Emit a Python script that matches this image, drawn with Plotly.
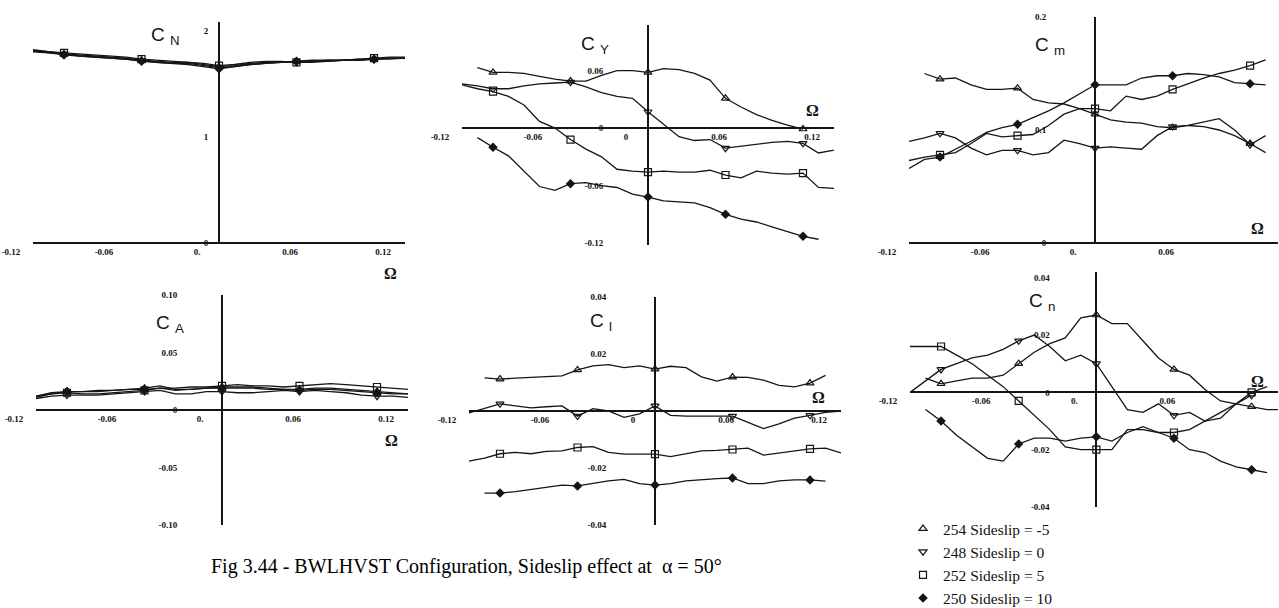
import plotly.graph_objects as go

W, H = 1279, 608

# ---------------- data ----------------
OMEGA = [-0.12, -0.11, -0.10, -0.09, -0.08, -0.07, -0.06, -0.05, -0.04, -0.03, -0.02, -0.01,
         0.00, 0.01, 0.02, 0.03, 0.04, 0.05, 0.06, 0.07, 0.08, 0.09, 0.10, 0.11, 0.12]
MARKER_OMEGA = [-0.10, -0.05, 0.00, 0.05, 0.10]

SERIES_NAMES = ["254 Sideslip = -5", "248 Sideslip = 0", "252 Sideslip = 5", "250 Sideslip = 10"]

# C_N
CN_M5 = [1.81, 1.80, 1.78, 1.77, 1.76, 1.75, 1.74, 1.72, 1.71, 1.70, 1.70, 1.68, 1.66, 1.67, 1.69, 1.70, 1.70, 1.71, 1.71, 1.72, 1.72, 1.73, 1.73, 1.74, 1.74]
CN_0 = [1.80, 1.79, 1.78, 1.76, 1.75, 1.74, 1.73, 1.72, 1.70, 1.69, 1.69, 1.67, 1.65, 1.66, 1.68, 1.69, 1.70, 1.70, 1.71, 1.71, 1.72, 1.72, 1.73, 1.73, 1.74]
CN_P5 = [1.82, 1.80, 1.79, 1.78, 1.77, 1.76, 1.75, 1.73, 1.72, 1.71, 1.70, 1.69, 1.67, 1.68, 1.70, 1.71, 1.71, 1.70, 1.70, 1.71, 1.72, 1.73, 1.74, 1.75, 1.75]
CN_P10 = [1.81, 1.79, 1.77, 1.76, 1.75, 1.74, 1.73, 1.71, 1.70, 1.69, 1.68, 1.66, 1.64, 1.66, 1.68, 1.69, 1.70, 1.71, 1.72, 1.72, 1.72, 1.72, 1.73, 1.74, 1.74]

# C_Y
CY_M5 = [None, 0.063, 0.058, 0.058, 0.057, 0.054, 0.051, 0.049, 0.049, 0.055, 0.060, 0.060, 0.058, 0.062, 0.061, 0.057, 0.050, 0.031, 0.022, 0.014, 0.008, 0.003, -0.001, None, None]
CY_0 = [0.046, 0.044, 0.041, 0.041, 0.044, 0.046, 0.047, 0.048, 0.043, 0.037, 0.033, 0.031, 0.017, 0.004, -0.009, -0.013, -0.012, -0.021, -0.019, -0.017, -0.015, -0.014, -0.016, -0.026, -0.023]
CY_P5 = [0.045, 0.041, 0.038, 0.033, 0.024, 0.007, 0.000, -0.012, -0.022, -0.030, -0.043, -0.045, -0.046, -0.045, -0.046, -0.046, -0.044, -0.049, -0.052, -0.045, -0.047, -0.048, -0.047, -0.062, -0.063]
CY_P10 = [None, -0.010, -0.020, -0.029, -0.045, -0.061, -0.065, -0.058, -0.057, -0.060, -0.062, -0.069, -0.072, -0.076, -0.077, -0.078, -0.083, -0.090, -0.095, -0.098, -0.103, -0.108, -0.113, -0.116, None]

# C_m
CM_M5 = [None, 0.150, 0.145, 0.146, 0.140, 0.136, 0.136, 0.137, 0.127, 0.124, 0.123, 0.119, 0.114, 0.109, 0.107, 0.106, 0.103, 0.102, 0.104, 0.103, 0.100, 0.095, 0.088, 0.080, None]
CM_0 = [0.090, 0.093, 0.097, 0.093, 0.084, 0.078, 0.082, 0.082, 0.078, 0.080, 0.091, 0.088, 0.084, 0.085, 0.084, 0.083, 0.095, 0.103, 0.104, 0.107, 0.110, 0.100, 0.087, 0.095, None]
CM_P5 = [0.073, 0.076, 0.078, 0.080, 0.088, 0.097, 0.094, 0.095, 0.096, 0.104, 0.114, 0.119, 0.119, 0.117, 0.130, 0.127, 0.130, 0.136, 0.141, 0.146, 0.150, 0.153, 0.157, 0.162, None]
CM_P10 = [0.066, 0.074, 0.076, 0.083, 0.090, 0.098, 0.102, 0.105, 0.111, 0.117, 0.124, 0.132, 0.140, 0.140, 0.140, 0.146, 0.148, 0.148, 0.150, 0.149, 0.147, 0.142, 0.141, 0.140, None]

# C_A
CA_M5 = [0.011, 0.014, 0.016, 0.016, 0.017, 0.017, 0.018, 0.019, 0.021, 0.018, 0.018, 0.019, 0.020, 0.020, 0.020, 0.019, 0.018, 0.018, 0.019, 0.019, 0.018, 0.017, 0.016, 0.015, 0.014]
CA_0 = [0.010, 0.012, 0.013, 0.013, 0.013, 0.014, 0.015, 0.016, 0.017, 0.014, 0.014, 0.016, 0.016, 0.015, 0.015, 0.016, 0.017, 0.016, 0.017, 0.016, 0.015, 0.013, 0.012, 0.012, 0.011]
CA_P5 = [0.012, 0.014, 0.015, 0.014, 0.014, 0.015, 0.016, 0.017, 0.019, 0.019, 0.020, 0.020, 0.021, 0.022, 0.021, 0.021, 0.020, 0.021, 0.022, 0.023, 0.022, 0.021, 0.020, 0.019, 0.018]
CA_P10 = [0.012, 0.015, 0.016, 0.016, 0.016, 0.017, 0.018, 0.018, 0.019, 0.017, 0.018, 0.019, 0.019, 0.019, 0.019, 0.018, 0.018, 0.017, 0.018, 0.018, 0.017, 0.016, 0.015, 0.014, 0.014]

# C_l
CL_M5 = [None, 0.0116, 0.0112, 0.0115, 0.0118, 0.0120, 0.0123, 0.0144, 0.0158, 0.0163, 0.0152, 0.0158, 0.0147, 0.0157, 0.0152, 0.0120, 0.0105, 0.0119, 0.0118, 0.0108, 0.0090, 0.0085, 0.0098, 0.0125, None]
CL_0 = [-0.0007, 0.0008, 0.0025, 0.0018, 0.0011, 0.0015, 0.0018, -0.0018, 0.0008, 0.0000, -0.0022, -0.0010, 0.0018, -0.0015, -0.0018, -0.0018, -0.0018, -0.0018, -0.0040, -0.0062, -0.0045, -0.0025, -0.0015, -0.0005, 0.0000]
CL_P5 = [-0.0176, -0.0165, -0.0150, -0.0145, -0.0150, -0.0142, -0.0140, -0.0128, -0.0125, -0.0145, -0.0151, -0.0151, -0.0151, -0.0160, -0.0150, -0.0140, -0.0138, -0.0135, -0.0130, -0.0155, -0.0148, -0.0140, -0.0133, -0.0130, -0.0147]
CL_P10 = [None, -0.0288, -0.0288, -0.0283, -0.0275, -0.0268, -0.0260, -0.0263, -0.0255, -0.0245, -0.0240, -0.0255, -0.0260, -0.0255, -0.0245, -0.0240, -0.0237, -0.0235, -0.0255, -0.0255, -0.0245, -0.0242, -0.0242, -0.0246, None]

# C_n
CNY_M5 = [None, 0.005, 0.003, 0.004, 0.005, 0.005, 0.006, 0.010, 0.014, 0.017, 0.019, 0.026, 0.027, 0.024, 0.024, 0.018, 0.012, 0.008, 0.006, 0.001, -0.003, -0.004, -0.005, -0.006, -0.006]
CNY_0 = [0.000, 0.004, 0.008, 0.010, 0.012, 0.013, 0.015, 0.018, 0.020, 0.016, 0.011, 0.013, 0.010, 0.002, -0.006, -0.007, -0.004, -0.008, -0.007, -0.010, -0.009, -0.004, -0.001, None, None]
CNY_P5 = [0.016, 0.016, 0.016, 0.013, 0.010, 0.006, 0.002, -0.003, -0.008, -0.013, -0.019, -0.020, -0.020, -0.020, -0.013, -0.013, -0.014, -0.014, -0.013, -0.010, -0.007, -0.004, 0.000, 0.002, None]
CNY_P10 = [None, -0.006, -0.010, -0.015, -0.019, -0.023, -0.024, -0.018, -0.016, -0.016, -0.017, -0.016, -0.0155, -0.017, -0.014, -0.012, -0.014, -0.016, -0.020, -0.021, -0.024, -0.026, -0.027, -0.028, None]

# axis tick labels
X_TICKS = [-0.12, -0.06, 0.0, 0.06, 0.12]
CN_YTICKS, CN_YTEXT = [0, 1, 2], ["0", "1", "2"]
CY_YTICKS, CY_YTEXT = [0.06, 0, -0.06, -0.12], ["0.06", "0", "-0.06", "-0.12"]
CM_YTICKS, CM_YTEXT = [0, 0.1, 0.2], ["0", "0.1", "0.2"]
CA_YTICKS, CA_YTEXT = [0.10, 0.05, 0, -0.05, -0.10], ["0.10", "0.05", "0", "-0.05", "-0.10"]
CL_YTICKS, CL_YTEXT = [0.04, 0.02, -0.02, -0.04], ["0.04", "0.02", "-0.02", "-0.04"]
CNY_YTICKS, CNY_YTEXT = [0.04, 0.02, 0, -0.02, -0.04], ["0.04", "0.02", "0", "-0.02", "-0.04"]

# ---------------- layout helpers ----------------
def fx(p):
    return p / W

def fy(p):
    return 1 - p / H

INK = "#151515"
SYMBOLS = ["triangle-up-open", "triangle-down-open", "square-open", "diamond"]
TICKFONT = dict(family="Liberation Serif", size=9, color="#111", weight="bold")

PANELS = [
    dict(title="C <sub>N</sub>", series=[CN_M5, CN_0, CN_P5, CN_P10], xpx=(33, 405), xr=(-0.12, 0.12),
         ypx=(22, 243), yr=(0, 2.08), yt=(CN_YTICKS, CN_YTEXT), xt=["-0.12", "-0.06", "0.", "0.06", "0.12"],
         ystand=8, tpos=(165, 36), opos=(390, 274)),
    dict(title="C <sub>Y</sub>", series=[CY_M5, CY_0, CY_P5, CY_P10], xpx=(462, 834), xr=(-0.12, 0.12),
         ypx=(25, 245), yr=(-0.122, 0.1075), yt=(CY_YTICKS, CY_YTEXT), xt=["-0.12", "-0.06", "0", "0.06", "0.12"],
         ystand=42, tpos=(595, 45), opos=(812, 110)),
    dict(title="C <sub>m</sub>", series=[CM_M5, CM_0, CM_P5, CM_P10], xpx=(909, 1278), xr=(-0.12, 0.118),
         ypx=(17, 243), yr=(0, 0.2), yt=(CM_YTICKS, CM_YTEXT), xt=["-0.12", "-0.06", "0.", "0.06", "0.12"],
         ystand=46, tpos=(1050, 46), opos=(1257, 228)),
    dict(title="C <sub>A</sub>", series=[CA_M5, CA_0, CA_P5, CA_P10], xpx=(36, 408), xr=(-0.12, 0.12),
         ypx=(295, 525), yr=(-0.1, 0.1), yt=(CA_YTICKS, CA_YTEXT), xt=["-0.12", "-0.06", "0.", "0.06", "0.12"],
         ystand=42, tpos=(170, 324), opos=(391, 440)),
    dict(title="C <sub>l</sub>", series=[CL_M5, CL_0, CL_P5, CL_P10], xpx=(469, 841), xr=(-0.12, 0.12),
         ypx=(297, 525), yr=(-0.04, 0.04), yt=(CL_YTICKS, CL_YTEXT), xt=["-0.12", "-0.06", "0", "0.06", "0.12"],
         ystand=46, tpos=(601, 322), opos=(818, 397)),
    dict(title="C <sub>n</sub>", series=[CNY_M5, CNY_0, CNY_P5, CNY_P10], xpx=(910, 1278), xr=(-0.12, 0.117),
         ypx=(272, 507), yr=(-0.04, 0.042), yt=(CNY_YTICKS, CNY_YTEXT), xt=["-0.12", "-0.06", "0.", "0.06", "0.12"],
         ystand=44, tpos=(1042, 302), opos=(1257, 381)),
]

fig = go.Figure()
layout = dict(width=W, height=H, autosize=False, margin=dict(l=0, r=0, t=0, b=0, autoexpand=False),
              paper_bgcolor="white", plot_bgcolor="white", showlegend=True)
annotations = []

for i, p in enumerate(PANELS, start=1):
    xa, ya = f"x{i}", f"y{i}"
    xdom = [fx(p["xpx"][0]), fx(p["xpx"][1])]
    ydom = [fy(p["ypx"][1]), fy(p["ypx"][0])]
    x0, x1 = p["xr"]
    y0, y1 = p["yr"]
    # where the zero lines cross, in paper fractions (derived from the scales)
    xpos = xdom[0] + (0 - x0) / (x1 - x0) * (xdom[1] - xdom[0])
    ypos = ydom[0] + (0 - y0) / (y1 - y0) * (ydom[1] - ydom[0])

    for k, vals in enumerate(p["series"]):
        fig.add_trace(go.Scatter(x=OMEGA, y=vals, mode="lines", xaxis=xa, yaxis=ya,
                                 line=dict(color=INK, width=1.3), connectgaps=False,
                                 showlegend=False, hoverinfo="skip"))
        mx = [o for o, v in zip(OMEGA, vals) if v is not None and any(abs(o - m) < 1e-9 for m in MARKER_OMEGA)]
        my = [v for o, v in zip(OMEGA, vals) if v is not None and any(abs(o - m) < 1e-9 for m in MARKER_OMEGA)]
        fig.add_trace(go.Scatter(x=mx, y=my, mode="markers", xaxis=xa, yaxis=ya,
                                 name=SERIES_NAMES[k], showlegend=(i == 1),
                                 marker=dict(symbol=SYMBOLS[k], size=7 if k != 3 else 6, color=INK,
                                             line=dict(color=INK, width=1.2))))

    layout[f"xaxis{i}"] = dict(domain=xdom, range=[x0, x1], anchor="free", position=ypos, automargin=False,
                               showline=True, linecolor=INK, linewidth=1.6, showgrid=False, zeroline=False,
                               ticks="", tickvals=X_TICKS, ticktext=p["xt"], tickfont=TICKFONT,
                               ticklabelshift=-22, ticklabelstandoff=0, fixedrange=True)
    layout[f"yaxis{i}"] = dict(domain=ydom, range=[y0, y1], anchor="free", position=xpos, automargin=False,
                               showline=True, linecolor=INK, linewidth=1.8, showgrid=False, zeroline=False,
                               ticks="", tickvals=p["yt"][0], ticktext=p["yt"][1], tickfont=TICKFONT,
                               ticklabelstandoff=p["ystand"], fixedrange=True)

    annotations.append(dict(text=p["title"], x=fx(p["tpos"][0]), y=fy(p["tpos"][1]), xref="paper", yref="paper",
                            showarrow=False, xanchor="center", yanchor="middle",
                            font=dict(family="Liberation Sans", size=19, color=INK)))
    annotations.append(dict(text="<b>Ω</b>", x=fx(p["opos"][0]), y=fy(p["opos"][1]), xref="paper", yref="paper",
                            showarrow=False, xanchor="center", yanchor="middle",
                            font=dict(family="Liberation Serif", size=16, color=INK)))

annotations.append(dict(text="Fig 3.44 - BWLHVST Configuration, Sideslip effect at  α = 50°",
                        x=fx(466), y=fy(566), xref="paper", yref="paper", showarrow=False,
                        xanchor="center", yanchor="middle",
                        font=dict(family="Liberation Serif", size=20, color="#000")))

layout["annotations"] = annotations
layout["legend"] = dict(x=fx(903), y=fy(512), xanchor="left", yanchor="top",
                        font=dict(family="Liberation Serif", size=15.5, color="#111"),
                        bgcolor="rgba(0,0,0,0)", itemwidth=30, tracegroupgap=0)
fig.update_layout(**layout)

fig.write_html("out.html", config={"displayModeBar": False},
               post_script="document.body.style.margin='0';document.body.style.overflow='hidden';")
